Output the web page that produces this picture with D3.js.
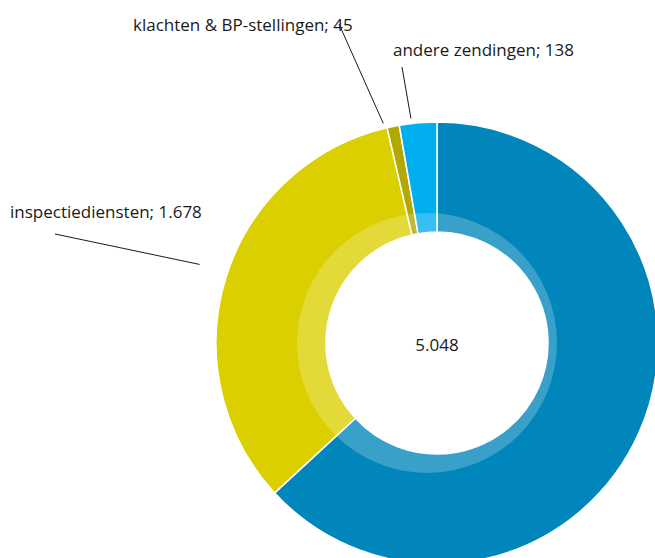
<!DOCTYPE html>
<html>
<head>
<meta charset="utf-8">
<script src="https://cdn.jsdelivr.net/npm/d3@7"></script>
<style>
  body { margin: 0; background: #fff; }
  svg text { font-family: "Open Sans", sans-serif; fill: #1a1a1a; }
</style>
</head>
<body>
<div class="chart"></div>
<script>
// data
var categories = ["overige", "inspectiediensten", "klachten & BP-stellingen", "andere zendingen"]
var values = [3187, 1678, 45, 138]
var totalLabel = "5.048"
var colors = ["#0086ba", "#dccf00", "#b3a800", "#00aeef"]

// label placement (index into categories, text anchor, angle nudge in degrees)
var labels = [
  { i: 1, tx: 10, ty: 218, lx: 55, ly: 234, r: 250, nudge: 1.2 },
  { i: 2, tx: 133, ty: 31, lx: 339, ly: 24, r: 226, nudge: -2.3 },
  { i: 3, tx: 393, ty: 56, lx: 402, ly: 67, r: 226, nudge: -1.7 }
]

var width = 655, height = 558
var cx = 437, cy = 343
var outerR = 221, innerR = 111

var svg = d3.select(".chart")
        .append("svg")
        .attr("width", width)
        .attr("height", height)

var pie = d3.pie().sort(null).value(function(d) { return d })
var arcs = pie(values)
var arc = d3.arc().innerRadius(innerR).outerRadius(outerR)

var g = svg.append("g").attr("transform", "translate(" + cx + "," + cy + ")")

g.selectAll("path.slice")
    .data(arcs)
    .enter().append("path")
    .attr("class", "slice")
    .attr("d", arc)
    .style("fill", function(d, i) { return colors[i] })
    .style("stroke", "#fff")
    .style("stroke-width", 1.5)

// soft light band round the hole
g.append("circle")
    .attr("cx", -10)
    .attr("cy", 0)
    .attr("r", 130)
    .style("fill", "#fff")
    .style("opacity", 0.22)

g.append("circle")
    .attr("r", innerR)
    .style("fill", "#fff")

g.append("text")
    .attr("text-anchor", "middle")
    .attr("y", 8)
    .style("font-size", "17px")
    .text(totalLabel)

// labels with leader lines
labels.forEach(function(l) {
    var a = arcs[l.i]
    var ang = (a.startAngle + a.endAngle) / 2 + l.nudge * Math.PI / 180
    var px = cx + l.r * Math.sin(ang)
    var py = cy - l.r * Math.cos(ang)
    svg.append("line")
        .attr("x1", l.lx).attr("y1", l.ly)
        .attr("x2", px).attr("y2", py)
        .style("stroke", "#1a1a1a")
        .style("stroke-width", 1)
    svg.append("text")
        .attr("x", l.tx)
        .attr("y", l.ty)
        .style("font-size", "17px")
        .text(categories[l.i] + "; " + d3.format(",")(values[l.i]).replace(",", "."))
})
</script>
</body>
</html>
